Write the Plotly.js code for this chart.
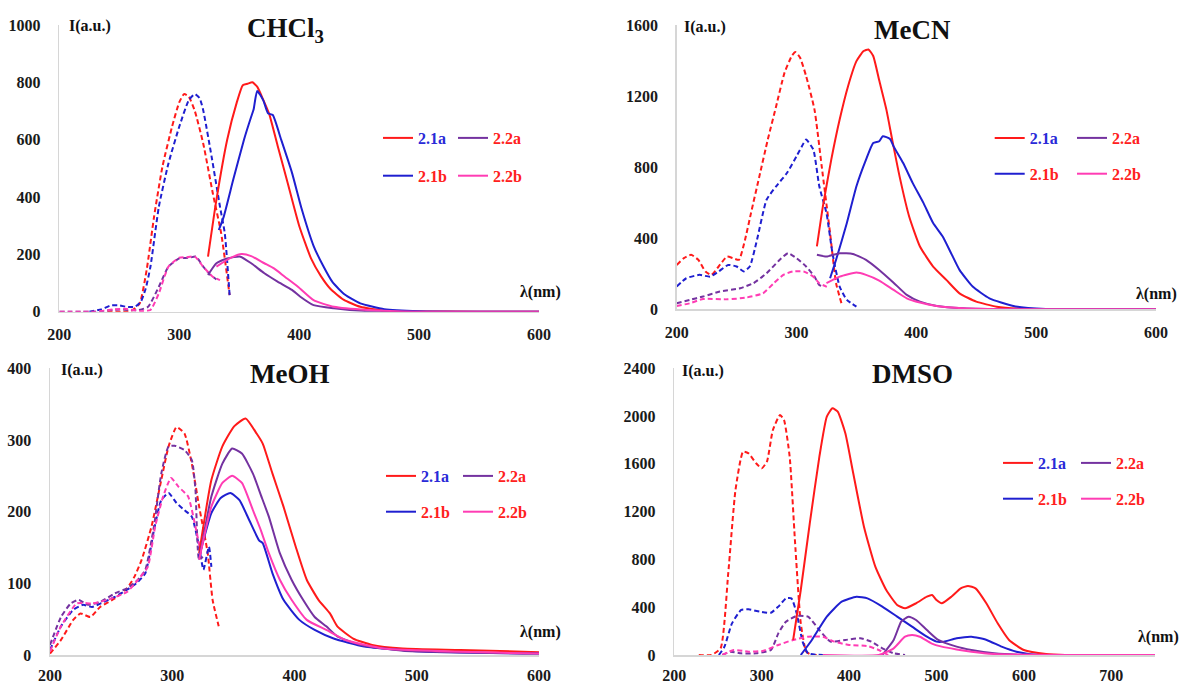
<!DOCTYPE html>
<html>
<head>
<meta charset="utf-8">
<script src="https://cdn.plot.ly/plotly-3.0.1.min.js"></script>
<style>html,body{margin:0;padding:0;background:#fff;}#chart{width:1183px;height:685px;}</style>
</head>
<body>
<div id="chart"></div>
<script>
// ---------- DATA ----------
const panelTitles = ['CHCl<sub>3</sub>', 'MeCN', 'MeOH', 'DMSO'];
const seriesNames = ['2.1a', '2.1b', '2.2a', '2.2b'];
const xTickValsA = [200, 300, 400, 500, 600];
const xTickValsB = [200, 300, 400, 500, 600, 700];
const yTicksCHCl3 = [0, 200, 400, 600, 800, 1000];
const yTicksMeCN = [0, 400, 800, 1200, 1600];
const yTicksMeOH = [0, 100, 200, 300, 400];
const yTicksDMSO = [0, 400, 800, 1200, 1600, 2000, 2400];

// CHCl3 excitation (dashed)
const chcl3_ex_21a_x = [240,260,267,273,279,286,294,300,304,308,313,320,328,335,342];
const chcl3_ex_21a_y = [0,3,29,150,331,506,645,730,759,750,700,587,413,273,58];
const chcl3_ex_21b_x = [225,235,243,250,256,263,268,272,276,283,291,300,308,313,317,320,327,334,338,342];
const chcl3_ex_21b_y = [0,8,22,22,17,17,35,80,157,366,517,645,738,759,745,703,541,366,273,58];
const chcl3_ex_22a_x = [200,230,250,265,274,283,291,300,308,314,320,326,331];
const chcl3_ex_22a_y = [0,0,8,5,17,87,157,186,188,192,157,128,113];
const chcl3_ex_22b_x = [200,230,245,255,268,276,283,291,300,306,313,320,328,334];
const chcl3_ex_22b_y = [0,0,8,10,2,6,64,157,188,190,192,157,122,110];
// CHCl3 emission (solid)
const chcl3_em_21a_x = [324,331,340,348,353,357,361,365,370,375,382,391,400,410,418,426,437,451,471,500,550,600];
const chcl3_em_21a_y = [192,390,600,730,790,795,800,785,740,690,580,440,300,185,125,80,42,17,4,1,0,0];
const chcl3_em_21b_x = [333,337,345,354,360,362,365,370,374,378,385,394,402,412,420,428,438,451,471,500,550,600];
const chcl3_em_21b_y = [285,330,460,600,680,705,770,738,692,686,600,485,360,230,160,102,60,29,9,2,0,0];
const chcl3_em_22a_x = [324,331,340,351,360,371,382,394,401,412,429,457,500,600];
const chcl3_em_22a_y = [128,169,186,192,169,134,105,76,52,23,12,2,0,0];
const chcl3_em_22b_x = [331,342,352,360,371,379,388,399,412,429,457,500,600];
const chcl3_em_22b_y = [157,186,201,194,169,151,122,87,40,17,6,0,0];

// MeCN excitation (dashed)
const mecn_ex_21a_x = [200,206,212,218,224,229,235,242,247,252,257,262,269,276,283,290,296,299,303,308,315,321,328,333,337.5];
const mecn_ex_21a_y = [250,288,307,279,213,194,241,297,288,279,391,542,749,956,1144,1333,1427,1449,1417,1314,1125,806,429,147,34];
const mecn_ex_21b_x = [200,208,219,228,235,243,250,256,261,267,275,283,292,300,306,308,314,319,325,330,336,342,350];
const mecn_ex_21b_y = [128,175,194,184,213,250,241,213,241,391,617,693,768,862,937,956,900,693,542,316,128,53,15];
const mecn_ex_22a_x = [200,211,222,236,253,264,275,286,293,300,308,315,319,322];
const mecn_ex_22a_y = [34,53,72,100,119,147,203,279,316,288,241,184,137,128];
const mecn_ex_22b_x = [200,211,222,242,258,272,281,289,297,306,314,319,328];
const mecn_ex_22b_y = [19,34,58,56,66,90,147,194,213,213,184,147,119];
// MeCN emission (solid)
const mecn_em_21a_x = [317,322,329,336,343,350,356,360,364,369,375,380,386,394,403,414,425,436,450,467,494,550,600];
const mecn_em_21a_y = [354,580,843,1069,1257,1398,1455,1464,1427,1290,1125,950,749,523,354,241,166,90,43,15,2,0,0];
const mecn_em_21b_x = [328,333,342,350,358,364,369,372,378,381,389,397,406,414,422,429,436,447,461,481,508,550,600];
const mecn_em_21b_y = [175,279,486,693,843,937,947,975,960,918,824,711,598,486,410,316,222,128,62,19,2,0,0];
const mecn_em_22a_x = [317,325,336,347,358,369,381,392,403,417,439,480,600];
const mecn_em_22a_y = [307,297,316,312,279,222,150,81,43,19,6,0,0];
const mecn_em_22b_x = [325,336,350,358,369,381,392,403,417,439,480,600];
const mecn_em_22b_y = [147,184,207,194,162,109,62,38,19,6,0,0];

// MeOH excitation (dashed)
const meoh_ex_21a_x = [200,209,219,225,233,241,253,263,269,275,283,291,297,303.5,310,316,322,329,333,338];
const meoh_ex_21a_y = [2,21,49,58,53,67,79,93,109,133,179,244,291,318,309,267,207,142,77,40];
const meoh_ex_21b_x = [200,209,219,227,234.5,244,253,263,270.6,278,285,291,297,303.5,310,316,322,325.5,330,332];
const meoh_ex_21b_y = [7,40,63,70,67,74,81,91,100,114,174,216,226,212,202,193,151,119,151,123];
const meoh_ex_22a_x = [200,209,217,223.5,231,241,253,263,272,278,285,291,297,302,310,316,319,322,325];
const meoh_ex_22a_y = [14,53,72,77,70,74,86,93,105,119,179,253,291,292,286,272,230,133,137];
const meoh_ex_22b_x = [200,209,222,234.5,247,263,272,280,286,292.5,299,305,313,319,324];
const meoh_ex_22b_y = [5,40,72,72,77,88,105,123,179,221,247,235,221,179,137];
// MeOH emission (solid)
const meoh_em_21a_x = [322,332,341,350.6,360,369,374,382,391,401,410,419.6,429,435,448,463.5,488.6,535.7,600];
const meoh_em_21a_y = [142,244,291,319,330,309,295,253,207,151,105,77,58,40,23,14,9,7,4];
const meoh_em_21b_x = [322,332,339.6,347.5,355,363,371,374,382,391,404,416.5,432,457,504,600];
const meoh_em_21b_y = [137,198,219,226,216,188,160,156,114,77,49,35,23,12,5,2];
const meoh_em_22a_x = [322,332,341,349,357,366,372.5,379,388,397.6,407,416.5,426,435,454,488.6,600];
const meoh_em_22a_y = [133,221,267,288,281,253,223,193,142,105,77,53,40,26,14,6,2];
const meoh_em_22b_x = [322,332,341,349,357,366,372.5,379,388,397.6,410,426,441.6,473,600];
const meoh_em_22b_y = [133,207,240,250,240,202,174,142,105,77,49,35,21,9,2];

// DMSO excitation (dashed)
const dmso_ex_21a_x = [228,242.5,253,261.7,270,278.7,285,293.6,300,306,312.8,321,325.5,332,338,344.7,351,357.4,366];
const dmso_ex_21a_y = [0,0,56,684,1381,1702,1688,1605,1563,1619,1884,2009,1968,1660,963,265,28,0,0];
const dmso_ex_21b_x = [251,257.4,266,276.6,285,298,310.6,319,327.7,334,340,346.8,353,370];
const dmso_ex_21b_y = [0,70,265,377,382,363,354,405,474,474,349,112,14,0];
const dmso_ex_22a_x = [255,264,276.6,293.6,310.6,319,327.7,340,353,366,378.7,395.7,412.8,425.5,438,451,464];
const dmso_ex_22a_y = [0,28,14,14,42,181,279,327,321,209,112,126,140,112,56,14,0];
const dmso_ex_22b_x = [255,268,285,302,319,336,353,370,383,400,421,434,444.7];
const dmso_ex_22b_y = [0,42,28,36,84,126,153,153,112,84,75,42,0];
// DMSO emission (solid)
const dmso_em_21a_x = [336,344.7,355,366,374.5,381,387,395.7,404,417,430,442.5,455,464,476.6,489,495,500,506,517,527.7,536,544.7,557,570,583,600,625.5,647,700,750];
const dmso_em_21a_y = [126,544,1102,1660,1995,2065,2037,1856,1549,1074,740,544,419,391,433,488,502,460,433,488,558,578,558,433,265,126,42,8,0,0,0];
const dmso_em_21b_x = [344.7,357.4,374.5,391.5,408.5,421,438,455,472,489,500,508.5,523,540,557.4,574.5,591.5,617,700,750];
const dmso_em_21b_y = [0,126,321,446,488,474,405,321,237,153,112,112,140,153,126,70,28,0,0,0];
const dmso_em_22a_x = [438,451,459.6,468,476.6,489,502,523,540,566,604,700,750];
const dmso_em_22a_y = [0,126,279,321,293,209,126,70,42,14,0,0,0];
const dmso_em_22b_x = [370,434,451,464,472,481,494,506,523,540,566,650,750];
const dmso_em_22b_y = [0,0,56,153,167,153,98,70,47,28,8,0,0];

// ---------- STYLE ----------
const FONT = 'Liberation Serif, DejaVu Serif, serif';
const COL = {'2.1a': '#ff1a1a', '2.1b': '#1f1fd0', '2.2a': '#7432a0', '2.2b': '#ff3cb4'};
const LEGTXT = {'2.1a': '#2a2ad8', '2.1b': '#ff2020', '2.2a': '#ff2020', '2.2b': '#ff2020'};

const panels = [
  {xa: 'x', ya: 'y', legs: ['legend', 'legend2'],
   ex: [[chcl3_ex_21a_x, chcl3_ex_21a_y], [chcl3_ex_21b_x, chcl3_ex_21b_y], [chcl3_ex_22a_x, chcl3_ex_22a_y], [chcl3_ex_22b_x, chcl3_ex_22b_y]],
   em: [[chcl3_em_21a_x, chcl3_em_21a_y], [chcl3_em_21b_x, chcl3_em_21b_y], [chcl3_em_22a_x, chcl3_em_22a_y], [chcl3_em_22b_x, chcl3_em_22b_y]]},
  {xa: 'x2', ya: 'y2', legs: ['legend3', 'legend4'],
   ex: [[mecn_ex_21a_x, mecn_ex_21a_y], [mecn_ex_21b_x, mecn_ex_21b_y], [mecn_ex_22a_x, mecn_ex_22a_y], [mecn_ex_22b_x, mecn_ex_22b_y]],
   em: [[mecn_em_21a_x, mecn_em_21a_y], [mecn_em_21b_x, mecn_em_21b_y], [mecn_em_22a_x, mecn_em_22a_y], [mecn_em_22b_x, mecn_em_22b_y]]},
  {xa: 'x3', ya: 'y3', legs: ['legend5', 'legend6'],
   ex: [[meoh_ex_21a_x, meoh_ex_21a_y], [meoh_ex_21b_x, meoh_ex_21b_y], [meoh_ex_22a_x, meoh_ex_22a_y], [meoh_ex_22b_x, meoh_ex_22b_y]],
   em: [[meoh_em_21a_x, meoh_em_21a_y], [meoh_em_21b_x, meoh_em_21b_y], [meoh_em_22a_x, meoh_em_22a_y], [meoh_em_22b_x, meoh_em_22b_y]]},
  {xa: 'x4', ya: 'y4', legs: ['legend7', 'legend8'],
   ex: [[dmso_ex_21a_x, dmso_ex_21a_y], [dmso_ex_21b_x, dmso_ex_21b_y], [dmso_ex_22a_x, dmso_ex_22a_y], [dmso_ex_22b_x, dmso_ex_22b_y]],
   em: [[dmso_em_21a_x, dmso_em_21a_y], [dmso_em_21b_x, dmso_em_21b_y], [dmso_em_22a_x, dmso_em_22a_y], [dmso_em_22b_x, dmso_em_22b_y]]}
];

const traces = [];
panels.forEach((p, pi) => {
  seriesNames.forEach((nm, si) => {
    traces.push({
      type: 'scatter', mode: 'lines', x: p.ex[si][0], y: p.ex[si][1],
      xaxis: p.xa, yaxis: p.ya, showlegend: false, hoverinfo: 'skip',
      line: {color: COL[nm], width: 2, dash: '5px,3px', shape: 'spline', smoothing: 0.5}
    });
  });
});
panels.forEach((p, pi) => {
  seriesNames.forEach((nm, si) => {
    traces.push({
      type: 'scatter', mode: 'lines', x: p.em[si][0], y: p.em[si][1],
      xaxis: p.xa, yaxis: p.ya,
      name: '<span style="color:' + LEGTXT[nm] + '">' + nm + '</span>',
      legend: p.legs[si < 2 ? 0 : 1], legendgroup: 'p' + pi + nm,
      line: {color: COL[nm], width: 2, shape: 'spline', smoothing: 0.5}
    });
  });
});

const W = 1183, H = 685;
const px = v => v / W;
const py = v => 1 - v / H;

const tickFont = {family: FONT, size: 16, color: '#1a1a1a', weight: 'bold'};
function xax(domain, range, tv, anchor, standoff) {
  return {domain: domain, range: range, tickvals: tv, ticktext: tv.map(String), anchor: anchor,
    showline: true, linecolor: '#d6d6d6', linewidth: 1.5, showgrid: false, zeroline: false,
    ticks: '', tickfont: tickFont, ticklabelstandoff: standoff, fixedrange: true};
}
function yax(domain, range, tv, anchor) {
  return {domain: domain, range: range, tickvals: tv, ticktext: tv.map(String), anchor: anchor,
    showline: true, linecolor: '#d6d6d6', linewidth: 1.5, showgrid: false, zeroline: false,
    ticks: '', tickfont: tickFont, ticklabelstandoff: 14, fixedrange: true};
}

function leg(xPix, topPix, gap) {
  return {x: px(xPix), y: py(topPix), xanchor: 'left', yanchor: 'top', orientation: 'v',
    bgcolor: 'rgba(0,0,0,0)', borderwidth: 0, tracegroupgap: gap, traceorder: 'grouped',
    font: {family: FONT, size: 16, weight: 'bold'}, itemwidth: 30};
}

const annFontTitle = {family: FONT, size: 27, color: '#111', weight: 'bold'};
const annFontLab = {family: FONT, size: 16, color: '#111', weight: 'bold'};
function ann(text, xPix, yPix, font, xanchor) {
  return {text: text, xref: 'paper', yref: 'paper', x: px(xPix), y: py(yPix), showarrow: false,
    xanchor: xanchor || 'center', yanchor: 'middle', font: font};
}

const layout = {
  width: W, height: H, margin: {l: 0, r: 0, t: 0, b: 0},
  paper_bgcolor: '#fff', plot_bgcolor: 'rgba(0,0,0,0)',
  font: {family: FONT},
  xaxis: xax([px(59.3), px(539)], [200, 600], xTickValsA, 'y', 8),
  yaxis: yax([py(311.7), py(25)], [0, 1000], yTicksCHCl3, 'x'),
  xaxis2: xax([px(676.7), px(1156)], [200, 600], xTickValsA, 'y2', 8),
  yaxis2: yax([py(309.3), py(25.3)], [0, 1600], yTicksMeCN, 'x2'),
  xaxis3: xax([px(50), px(539)], [200, 600], xTickValsA, 'y3', 5),
  yaxis3: yax([py(655), py(368.3)], [0, 400], yTicksMeOH, 'x3'),
  xaxis4: xax([px(674.3), px(1155)], [200, 750], xTickValsB, 'y4', 5),
  yaxis4: yax([py(655), py(368.3)], [0, 2400], yTicksDMSO, 'x4'),
  legend: leg(378, 121, 14), legend2: leg(453, 121, 14),
  legend3: leg(989.7, 121, 12), legend4: leg(1072, 121, 12),
  legend5: leg(381, 459, 12), legend6: leg(458, 459, 12),
  legend7: leg(998, 446, 12), legend8: leg(1076, 446, 12),
  annotations: [
    ann(panelTitles[0], 285, 30, annFontTitle),
    ann(panelTitles[1], 912, 30, annFontTitle),
    ann(panelTitles[2], 289.5, 374, annFontTitle),
    ann(panelTitles[3], 912, 374, annFontTitle),
    ann('I(a.u.)', 67, 26, annFontLab, 'left'),
    ann('I(a.u.)', 681.7, 27, annFontLab, 'left'),
    ann('I(a.u.)', 59, 370, annFontLab, 'left'),
    ann('I(a.u.)', 680, 371, annFontLab, 'left'),
    ann('λ(nm)', 540, 292, annFontLab),
    ann('λ(nm)', 1156, 294, annFontLab),
    ann('λ(nm)', 540, 632, annFontLab),
    ann('λ(nm)', 1158, 637, annFontLab)
  ],
  showlegend: true
};

Plotly.newPlot('chart', traces, layout, {staticPlot: true, displayModeBar: false});
</script>
</body>
</html>
